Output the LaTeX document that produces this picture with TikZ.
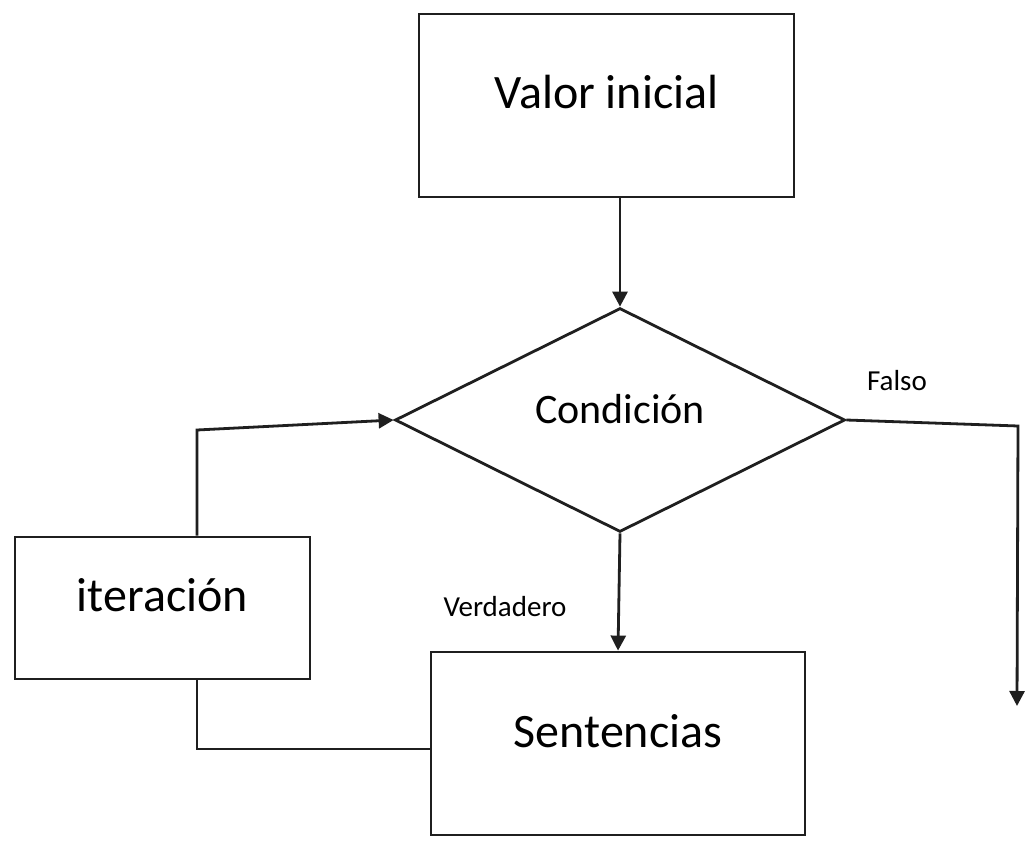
\documentclass[tikz,border=0pt]{standalone}
\usepackage{fontspec}
\setmainfont{Carlito}
\usetikzlibrary{shapes.geometric,arrows.meta}
\tikzset{
  lw/.style={line width=2.8pt, draw=black!88},
  box/.style={lw, rectangle, inner sep=0pt, font=\fontsize{48pt}{56pt}\selectfont, text height=34pt, text depth=27pt},
  decision/.style={lw, diamond, inner sep=0pt, font=\fontsize{42pt}{50pt}\selectfont, text height=30pt, text depth=24pt},
  lbl/.style={anchor=base, inner sep=0pt, font=\fontsize{29pt}{34pt}\selectfont},
  arr/.style={lw, -{Triangle[length=15pt,width=15pt]}},
  conn/.style={lw}
}
\begin{document}
\begin{tikzpicture}[x=1pt,y=-1pt]
\useasboundingbox[fill=white] (0,0) rectangle (1036,842);
\node[box, minimum width=375pt, minimum height=183pt] (valor) at (606.5,105.5) {Valor inicial};
\node[decision, minimum width=450pt, minimum height=216pt] (cond) at (620,420) {Condición};
\node[box, minimum width=295pt, minimum height=142pt] (iter) at (162.5,608) {iteración};
\node[box, minimum width=374pt, minimum height=183pt] (sent) at (618,743.5) {Sentencias};
\node[lbl] (falso) at (897,390) {Falso};
\node[lbl] (verd) at (505,616) {Verdadero};
\coordinate (b1) at (197,749);
\coordinate (b2) at (197,430);
\coordinate (f1) at (1018,426);
\coordinate (f2) at (1017,706);
\draw[arr] (valor.south -| cond.north) -- (cond.north);
\draw[arr] (cond.south) -- (sent.north);
\draw[arr] (cond.east) -- (f1) -- (f2);
\draw[conn] (sent.west |- b1) -- (b1) -- (b1 |- iter.south);
\draw[arr] (b2 |- iter.north) -- (b2) -- (cond.west);
\end{tikzpicture}
\end{document}
